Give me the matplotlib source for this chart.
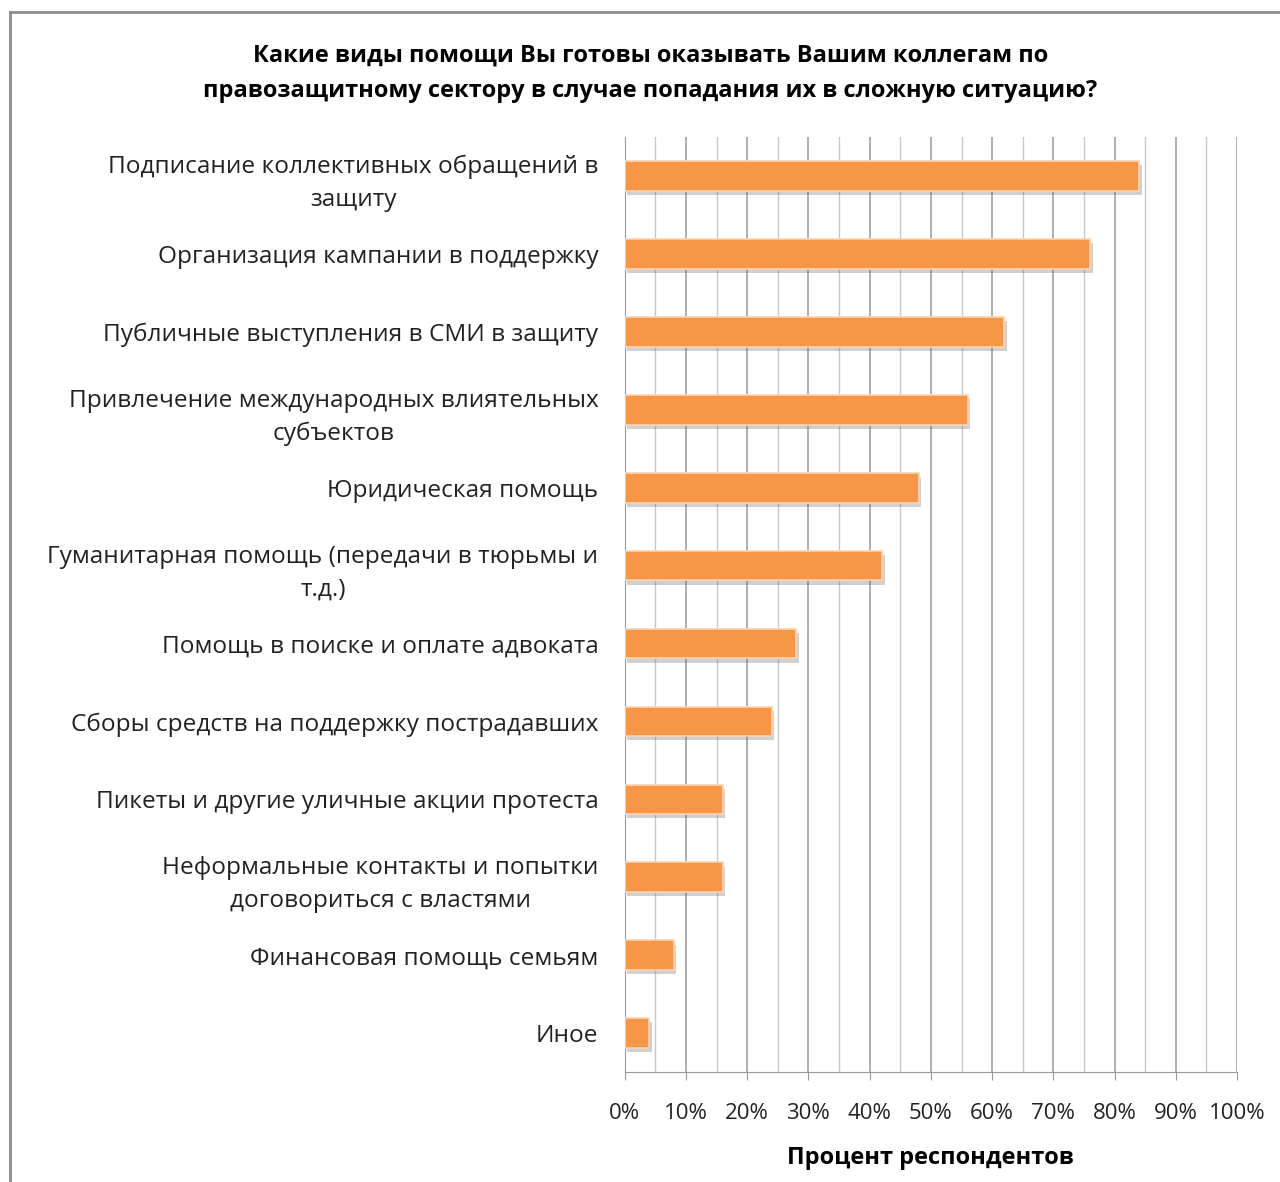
import matplotlib.pyplot as plt
import matplotlib.patheffects as pe
from matplotlib.lines import Line2D
from matplotlib.ticker import MultipleLocator, PercentFormatter

categories = [
    'Подписание коллективных обращений в\nзащиту',
    'Организация кампании в поддержку',
    'Публичные выступления в СМИ в защиту',
    'Привлечение международных влиятельных\nсубъектов',
    'Юридическая помощь',
    'Гуманитарная помощь (передачи в тюрьмы и\nт.д.)',
    'Помощь в поиске и оплате адвоката',
    'Сборы средств на поддержку пострадавших',
    'Пикеты и другие уличные акции протеста',
    'Неформальные контакты и попытки\nдоговориться с властями',
    'Финансовая помощь семьям',
    'Иное',
]
values = [84, 76, 62, 56, 48, 42, 28, 24, 16, 16, 8, 4]

plt.rcParams['font.family'] = ['Open Sans', 'DejaVu Sans']

fig = plt.figure(figsize=(12.8, 11.82), dpi=100)
ax = fig.add_axes([0.488, 0.093, 0.4785, 0.791])

# frame of the chart area (only left and top are visible in the crop)
fx, fy = 10 / 1280, 1 - 12 / 1182
fig.lines.append(Line2D([fx, fx], [0, fy], transform=fig.transFigure, color='#8c8c8c', linewidth=2))
fig.lines.append(Line2D([fx, 1], [fy, fy], transform=fig.transFigure, color='#8c8c8c', linewidth=2))

y = list(range(len(categories)))
bars = ax.barh(y, values, height=0.38, color='#F79646', edgecolor='#FCD3B2', linewidth=1.2, zorder=3)
for b in bars:
    b.set_path_effects([pe.SimplePatchShadow(offset=(2, -3), shadow_rgbFace='#666666', alpha=0.3),
                        pe.Normal()])

ax.set_ylim(len(categories) - 0.5, -0.5)
ax.set_xlim(0, 100)
ax.set_yticks(y)
ax.set_yticklabels(categories, fontsize=17.6, multialignment='center', color='#222222', linespacing=1.5)
ax.tick_params(axis='y', length=0, pad=19)

ax.xaxis.set_major_locator(MultipleLocator(10))
ax.xaxis.set_minor_locator(MultipleLocator(5))
ax.xaxis.set_major_formatter(PercentFormatter(decimals=0))
ax.tick_params(axis='x', which='major', length=6, color='#999999', labelsize=16, pad=16, labelcolor='#222222')
ax.tick_params(axis='x', which='minor', length=0)
ax.grid(axis='x', which='major', color='#999999', linewidth=1.1, zorder=0)
ax.grid(axis='x', which='minor', color='#c8c8c8', linewidth=1.0, zorder=0)
ax.set_axisbelow(True)

for s in ['top', 'right']:
    ax.spines[s].set_visible(False)
ax.spines['left'].set_color('#999999')
ax.spines['bottom'].set_color('#999999')

ax.set_xlabel('Процент респондентов', fontsize=17, fontweight='bold', labelpad=16)

fig.text(0.508, 0.938, 'Какие виды помощи Вы готовы оказывать Вашим коллегам по\n'
         'правозащитному сектору в случае попадания их в сложную ситуацию?',
         ha='center', va='center', fontsize=17, fontweight='bold', linespacing=1.6)

plt.savefig('out.png', dpi=100)
